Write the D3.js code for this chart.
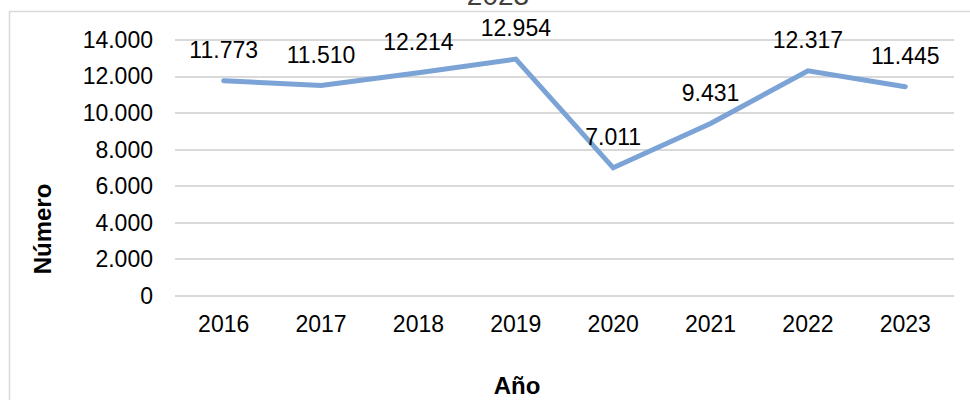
<!DOCTYPE html>
<html>
<head>
<meta charset="utf-8">
<script src="https://cdn.jsdelivr.net/npm/d3@7"></script>
<style>
  body { margin: 0; background: #fff; }
  text { font-family: "Liberation Sans", Arial, sans-serif; fill: #000; }
</style>
</head>
<body>
<svg id="chart"></svg>
<script>
// data
var years = ["2016", "2017", "2018", "2019", "2020", "2021", "2022", "2023"];
var values = [11773, 11510, 12214, 12954, 7011, 9431, 12317, 11445];
var yTicks = [0, 2000, 4000, 6000, 8000, 10000, 12000, 14000];

var W = 970, H = 400;
var margin = {"top": 40, "right": 16, "bottom": 104, "left": 175};
var width = W - margin.left - margin.right;
var height = H - margin.top - margin.bottom;
var fontSize = "23px";

var svg = d3.select("#chart").attr("width", W).attr("height", H);

// chart frame (only top and left edges are visible)
svg.append("rect")
    .attr("x", 9.5).attr("y", 11.5)
    .attr("width", 1000).attr("height", 500)
    .style("fill", "none").style("stroke", "#d9d9d9").style("stroke-width", 1.5);

// title, mostly cut off at the top
svg.append("text")
    .attr("x", 498).attr("y", 5)
    .attr("text-anchor", "middle")
    .style("font-size", "28px")
    .style("fill", "#404040")
    .text("2023");

var g = svg.append("g")
    .attr("transform", "translate(" + margin.left + "," + margin.top + ")");

var x = d3.scaleBand().domain(years).range([0, width]);
var y = d3.scaleLinear().domain([0, 14000]).range([height, 0]);

var fmt = function(v) { return d3.format(",")(v).replace(/,/g, "."); };

// gridlines
g.selectAll("line.grid")
    .data(yTicks)
    .enter().append("line")
    .attr("class", "grid")
    .attr("x1", 0).attr("x2", width)
    .attr("y1", function(d) { return Math.round(y(d)); })
    .attr("y2", function(d) { return Math.round(y(d)); })
    .style("stroke", "#d9d9d9").style("stroke-width", 2);

// y axis labels
var yAxis = d3.axisLeft(y).tickValues(yTicks).tickSize(0).tickPadding(22).tickFormat(fmt);
var ya = g.append("g").call(yAxis);
ya.select(".domain").remove();
ya.selectAll("text").style("font-size", fontSize).style("font-family", "Liberation Sans, Arial, sans-serif");

// x axis labels
var xAxis = d3.axisBottom(x).tickSize(0).tickPadding(20);
var xa = g.append("g").attr("transform", "translate(0," + height + ")").call(xAxis);
xa.select(".domain").remove();
xa.selectAll("text").style("font-size", fontSize).style("font-family", "Liberation Sans, Arial, sans-serif");

// the line
var line = d3.line()
    .x(function(d, i) { return x(years[i]) + x.bandwidth() / 2; })
    .y(function(d) { return y(d); });

g.append("path")
    .datum(values)
    .attr("d", line)
    .style("fill", "none")
    .style("stroke", "#7ba3d6")
    .style("stroke-width", 5)
    .style("stroke-linecap", "round")
    .style("stroke-linejoin", "miter");

// data labels above the points
g.selectAll("text.lbl")
    .data(values)
    .enter().append("text")
    .attr("class", "lbl")
    .attr("text-anchor", "middle")
    .attr("x", function(d, i) { return x(years[i]) + x.bandwidth() / 2; })
    .attr("y", function(d) { return y(d) - 23; })
    .style("font-size", fontSize)
    .text(fmt);

// axis titles
svg.append("text")
    .attr("text-anchor", "middle")
    .attr("transform", "translate(51,229)rotate(-90)")
    .style("font-size", "24px").style("font-weight", "bold")
    .text("Número");

svg.append("text")
    .attr("text-anchor", "middle")
    .attr("x", 517).attr("y", 394)
    .style("font-size", "24px").style("font-weight", "bold")
    .text("Año");
</script>
</body>
</html>
